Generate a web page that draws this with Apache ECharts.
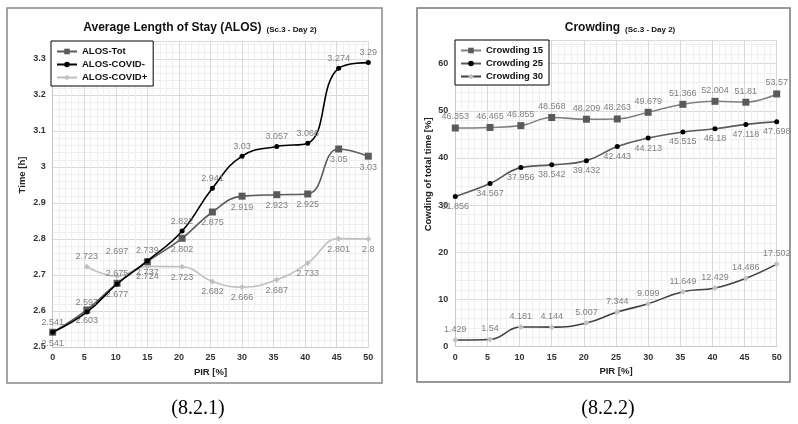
<!DOCTYPE html>
<html>
<head>
<meta charset="utf-8">
<script src="https://cdn.jsdelivr.net/npm/echarts@6.0.0/dist/echarts.min.js"></script>
<style>
html,body{margin:0;padding:0;background:#fff;}
#chart{width:798px;height:424px;}
</style>
</head>
<body>
<div id="chart"></div>
<script>
// ---- data ----
const pirLeft = [0, 5.4, 10.2, 15, 20.5, 25.3, 30, 35.5, 40.4, 45.3, 50];
const pirRight = [0, 5.4, 10.2, 15, 20.4, 25.2, 30, 35.4, 40.4, 45.2, 50];
const xTicks = [0, 5, 10, 15, 20, 25, 30, 35, 40, 45, 50];

const alosTot = [2.541, 2.603, 2.677, 2.737, 2.802, 2.875, 2.919, 2.923, 2.925, 3.05, 3.03];
const alosCovidNeg = [2.541, 2.597, 2.675, 2.739, 2.822, 2.941, 3.03, 3.057, 3.066, 3.274, 3.29];
const alosCovidPos = [null, 2.723, 2.697, 2.724, 2.723, 2.682, 2.666, 2.687, 2.733, 2.801, 2.8];

const crowding15 = [46.353, 46.465, 46.855, 48.568, 48.209, 48.263, 49.679, 51.366, 52.004, 51.81, 53.57];
const crowding25 = [31.856, 34.567, 37.956, 38.542, 39.432, 42.443, 44.213, 45.515, 46.18, 47.118, 47.698];
const crowding30 = [1.429, 1.54, 4.181, 4.144, 5.007, 7.344, 9.099, 11.649, 12.429, 14.486, 17.502];

// label placement (style, kept apart from the data)
const covidPosLabelPos = ['top', 'top', 'top', 'bottom', 'bottom', 'bottom', 'bottom', 'bottom', 'bottom', 'bottom', 'bottom'];

// ---- helpers ----
function pts(xs, ys, positions, extra) {
  const out = [];
  ys.forEach((y, i) => {
    if (y === null) return;
    const item = { value: [xs[i], y] };
    if (positions) item.label = { position: positions[i] };
    if (extra && extra[i]) item.label = Object.assign(item.label || {}, extra[i]);
    out.push(item);
  });
  return out;
}
const labelFont = { fontFamily: 'Liberation Sans', fontSize: 9, color: '#808080' };
function lineSeries(name, data, xi, lineColor, lineWidth, symbol, symSize, symColor, labelPos, z) {
  return {
    name: name, type: 'line', xAxisIndex: xi, yAxisIndex: xi,
    data: data, smooth: 0.45, z: z,
    symbol: symbol, symbolSize: symSize,
    lineStyle: { color: lineColor, width: lineWidth },
    itemStyle: { color: symColor, borderWidth: 0 },
    label: Object.assign({ show: true, position: labelPos, distance: 3, formatter: p => String(p.value[1]) }, labelFont),
    emphasis: { disabled: true }
  };
}
const axisLabelStyle = { fontFamily: 'Liberation Sans', fontSize: 9, fontWeight: 'bold', color: '#333' };
const nameStyle = { fontFamily: 'Liberation Sans', fontSize: 9.5, fontWeight: 'bold', color: '#222' };
function xAx(gi) {
  return {
    type: 'value', gridIndex: gi, min: xTicks[0], max: xTicks[xTicks.length - 1], interval: 5,
    name: 'PIR [%]', nameLocation: 'middle', nameGap: 19, nameTextStyle: nameStyle,
    axisLine: { show: true, lineStyle: { color: '#c8c8c8' } }, axisTick: { show: false },
    axisLabel: Object.assign({ margin: 6 }, axisLabelStyle),
    splitLine: { show: true, lineStyle: { color: '#d9d9d9', width: 1 } },
    minorTick: { show: false, splitNumber: 5 },
    minorSplitLine: { show: true, lineStyle: { color: '#efefef', width: 1 } }
  };
}
function yAx(gi, min, max, interval, name, gap, pad) {
  return {
    type: 'value', gridIndex: gi, min: min, max: max, interval: interval,
    name: name, nameLocation: 'middle', nameGap: gap, nameRotate: 90,
    nameTextStyle: Object.assign({ padding: pad }, nameStyle),
    axisLine: { show: true, lineStyle: { color: '#c8c8c8' } }, axisTick: { show: false },
    axisLabel: Object.assign({ margin: 7, showMaxLabel: false }, axisLabelStyle),
    splitLine: { show: true, lineStyle: { color: '#d9d9d9', width: 1 } },
    minorTick: { show: false, splitNumber: 5 },
    minorSplitLine: { show: true, lineStyle: { color: '#efefef', width: 1 } }
  };
}
const legendCommon = {
  orient: 'vertical', itemWidth: 20, itemHeight: 7, itemGap: 2,
  padding: [5, 6, 3, 5], borderColor: '#000', borderWidth: 1, backgroundColor: '#fff',
  textStyle: { fontFamily: 'Liberation Sans', fontSize: 9.5, fontWeight: 'bold', color: '#111', lineHeight: 11 },
  selectedMode: false
};
const titleRich = {
  a: { fontFamily: 'Liberation Sans', fontSize: 12, fontWeight: 'bold', color: '#111' },
  b: { fontFamily: 'Liberation Sans', fontSize: 8, fontWeight: 'bold', color: '#111', padding: [4, 0, 0, 0] }
};

const chart = echarts.init(document.getElementById('chart'), null, { renderer: 'canvas' });
chart.setOption({
  backgroundColor: '#fff',
  animation: false,
  title: [
    { text: '{a|Average Length of Stay (ALOS)} {b|(Sc.3 - Day 2)}', left: 195, top: 14, textAlign: 'center',
      textStyle: { rich: titleRich } },
    { text: '{a|Crowding} {b|(Sc.3 - Day 2)}', left: 615, top: 14, textAlign: 'center',
      textStyle: { rich: titleRich } },
    { text: '(8.2.1)', left: 193, top: 394, textAlign: 'center',
      textStyle: { fontFamily: 'Liberation Serif', fontSize: 20, fontWeight: 'normal', color: '#000' } },
    { text: '(8.2.2)', left: 603, top: 394, textAlign: 'center',
      textStyle: { fontFamily: 'Liberation Serif', fontSize: 20, fontWeight: 'normal', color: '#000' } }
  ],
  graphic: [
    { type: 'rect', shape: { x: 7, y: 8, width: 375, height: 375 }, style: { fill: 'none', stroke: '#888', lineWidth: 1.5 }, z: 0 },
    { type: 'rect', shape: { x: 417, y: 8, width: 373, height: 374 }, style: { fill: 'none', stroke: '#777', lineWidth: 1.5 }, z: 0 }
  ],
  legend: [
    Object.assign({ left: 51, top: 41, data: ['ALOS-Tot', 'ALOS-COVID-', 'ALOS-COVID+'] }, legendCommon),
    Object.assign({ left: 455, top: 40, data: ['Crowding 15', 'Crowding 25', 'Crowding 30'] }, legendCommon)
  ],
  grid: [
    { left: 52.7, top: 41, width: 315.6, height: 306 },
    { left: 455.3, top: 40, width: 321.4, height: 306.7 }
  ],
  xAxis: [xAx(0), xAx(1)],
  yAxis: [
    yAx(0, 2.5, 3.35, 0.1, 'Time [h]', 25, [0, 0, 0, 38]),
    yAx(1, 0, 65, 10, 'Cowding of total time [%]', 22, [0, 0, 0, 38])
  ],
  series: [
    lineSeries('ALOS-COVID+', pts(pirLeft, alosCovidPos, covidPosLabelPos, { 2: { offset: [0, -14] } }), 0, '#c0c0c0', 1.6, 'diamond', 6, '#c0c0c0', 'bottom', 2),
    lineSeries('ALOS-Tot', pts(pirLeft, alosTot), 0, '#5a5a5a', 1.6, 'rect', 7, '#5a5a5a', 'bottom', 3),
    lineSeries('ALOS-COVID-', pts(pirLeft, alosCovidNeg), 0, '#000', 1.6, 'circle', 5, '#000', 'top', 4),
    lineSeries('Crowding 15', pts(pirRight, crowding15), 1, '#808080', 1.6, 'rect', 7, '#5a5a5a', 'top', 3),
    lineSeries('Crowding 25', pts(pirRight, crowding25), 1, '#5a5a5a', 1.6, 'circle', 5, '#000', 'bottom', 3),
    lineSeries('Crowding 30', pts(pirRight, crowding30), 1, '#404040', 1.6, 'diamond', 6, '#c0c0c0', 'top', 3)
  ]
});
</script>
</body>
</html>
